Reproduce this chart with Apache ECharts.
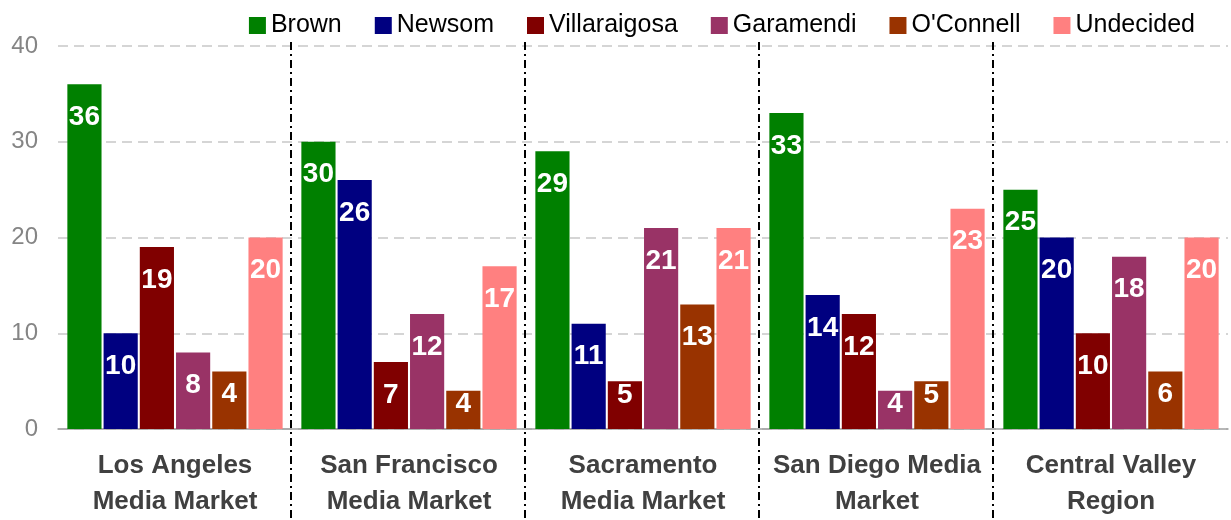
<!DOCTYPE html>
<html>
<head>
<meta charset="utf-8">
<script src="https://cdn.jsdelivr.net/npm/echarts@6/dist/echarts.min.js"></script>
<style>
  html, body { margin: 0; padding: 0; background: #fff; }
  #chart { width: 1231px; height: 520px; }
</style>
</head>
<body>
<div id="chart"></div>
<script>
const categories = [
  'Los Angeles\nMedia Market',
  'San Francisco\nMedia Market',
  'Sacramento\nMedia Market',
  'San Diego Media\nMarket',
  'Central Valley\nRegion'
]
const yTicks = [0, 10, 20, 30, 40]

const brown = [36, 30, 29, 33, 25]
const newsom = [10, 26, 11, 14, 20]
const villaraigosa = [19, 7, 5, 12, 10]
const garamendi = [8, 12, 21, 4, 18]
const oconnell = [6, 4, 13, 5, 6]
// the source prints "4" on the Los Angeles O'Connell bar
const oconnellLabels = ['4', '4', '13', '5', '6']
const undecided = [20, 17, 21, 23, 20]

const SERIES = [
  { name: 'Brown', data: brown, color: '#008000' },
  { name: 'Newsom', data: newsom, color: '#000080' },
  { name: 'Villaraigosa', data: villaraigosa, color: '#800000' },
  { name: 'Garamendi', data: garamendi, color: '#993366' },
  { name: "O'Connell", data: oconnell, color: '#993300', labels: oconnellLabels },
  { name: 'Undecided', data: undecided, color: '#FF8080' }
]

const GRID = { left: 58, right: 3, top: 46, bottom: 90 }

// short bars keep their label squeezed up against the top edge
function labelDistance(v) {
  if (v <= 5) return 0
  if (v <= 6) return 9
  return 19
}

const chart = echarts.init(document.getElementById('chart'))

chart.setOption({
  animation: false,
  textStyle: { fontFamily: 'Liberation Sans, Arial, sans-serif' },
  legend: {
    top: 8,
    right: 31,
    itemWidth: 17,
    itemHeight: 17,
    itemGap: 33,
    icon: 'rect',
    textStyle: { color: '#000', fontSize: 25 },
    data: SERIES.map(s => s.name)
  },
  grid: GRID,
  xAxis: {
    type: 'category',
    data: categories,
    axisLine: { lineStyle: { color: '#a0a0a0', width: 1.5 } },
    axisTick: { length: 6, lineStyle: { color: '#a0a0a0', width: 1.5 } },
    axisLabel: {
      color: '#404040',
      fontSize: 26,
      fontWeight: 'bold',
      lineHeight: 36,
      margin: 19,
      interval: 0
    }
  },
  yAxis: {
    type: 'value',
    min: yTicks[0],
    max: yTicks[yTicks.length - 1],
    interval: 10,
    axisLine: { show: false },
    axisTick: { show: false },
    axisLabel: { color: '#858585', fontSize: 24, margin: 20 },
    splitLine: { lineStyle: { color: '#c8c8c8', width: 1.5, type: [10, 6] } }
  },
  series: SERIES.map(s => ({
    name: s.name,
    type: 'bar',
    data: s.data.map(v => ({ value: v, label: { distance: labelDistance(v) } })),
    barGap: '6%',
    barCategoryGap: '8%',
    itemStyle: { color: s.color },
    label: {
      show: true,
      position: 'insideTop',
      color: '#fff',
      fontSize: 28,
      fontWeight: 'bold',
      formatter: p => (s.labels ? s.labels[p.dataIndex] : String(p.value))
    }
  }))
})

// dash-dot separators between the market groups
function drawSeparators() {
  const h = chart.getHeight()
  const lines = []
  for (let i = 1; i < categories.length; i++) {
    const a = chart.convertToPixel({ xAxisIndex: 0 }, categories[i - 1])
    const b = chart.convertToPixel({ xAxisIndex: 0 }, categories[i])
    const x = Math.round((a + b) / 2) - 1
    lines.push({
      type: 'line',
      shape: { x1: x, y1: GRID.top - 4, x2: x, y2: h },
      style: { stroke: '#000', lineWidth: 2, lineDash: [8, 4, 2, 4] },
      z: 10
    })
  }
  chart.setOption({ graphic: lines })
}
drawSeparators()
</script>
</body>
</html>
